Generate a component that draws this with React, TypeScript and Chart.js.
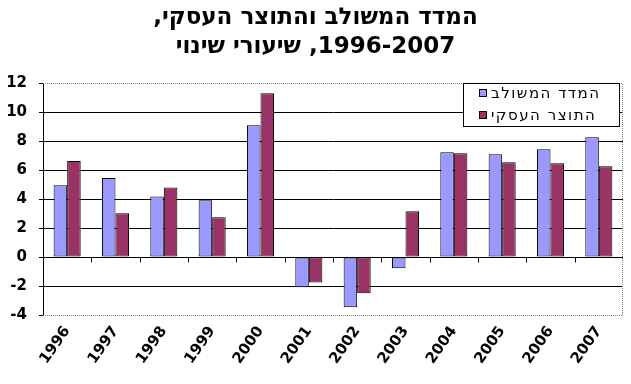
import React, { useEffect, useRef } from "react";
import { Chart, registerables } from "chart.js";
Chart.register(...registerables);

const years = ["1996", "1997", "1998", "1999", "2000", "2001", "2002", "2003", "2004", "2005", "2006", "2007"];
const compositeIndex = [4.95, 5.45, 4.18, 3.91, 9.08, -2.09, -3.47, -0.78, 7.22, 7.08, 7.43, 8.26];
const businessProduct = [6.62, 3.01, 4.8, 2.74, 11.29, -1.75, -2.5, 3.15, 7.15, 6.53, 6.46, 6.26];
const seriesLabels = ["המדד המשולב", "התוצר העסקי"];
const seriesColors = ["#9999FF", "#993366"];
// Title lines as visual runs, left to right (each Hebrew run is a pure RTL run)
const titleLine1Runs = [",", "המדד המשולב והתוצר העסקי"];
const titleLine2Runs = ["שיעורי שינוי", " ,", "1996-2007"];
const yMin = -4;
const yMax = 12;
const yStep = 2;

const FONT = "'DejaVu Sans', sans-serif";

function drawRuns(ctx: CanvasRenderingContext2D, runs: string[], cx: number, cy: number) {
  const widths = runs.map((r) => ctx.measureText(r).width);
  const total = widths.reduce((a, b) => a + b, 0);
  let x = cx - total / 2;
  runs.forEach((r, i) => {
    ctx.fillText(r, x, cy);
    x += widths[i];
  });
}

const framePlugin = {
  id: "frameAndLegend",
  afterDraw(chart: any) {
    const ctx = chart.ctx;
    const area = chart.chartArea;
    const x = chart.scales.x;
    const y = chart.scales.y;
    ctx.save();
    ctx.direction = "ltr";
    // title
    ctx.textAlign = "left";
    ctx.textBaseline = "middle";
    ctx.fillStyle = "#000";
    ctx.font = "bold 23px " + FONT;
    drawRuns(ctx, titleLine1Runs, chart.width / 2, 18);
    drawRuns(ctx, titleLine2Runs, chart.width / 2, 47);
    // dotted frame: top, right, bottom
    ctx.strokeStyle = "#808080";
    ctx.lineWidth = 1;
    ctx.setLineDash([1, 1]);
    ctx.beginPath();
    const t = Math.round(area.top) + 0.5;
    const b = Math.round(area.bottom) + 0.5;
    const r = Math.round(area.right) - 0.5;
    const l = Math.round(area.left);
    ctx.moveTo(l, t);
    ctx.lineTo(r, t);
    ctx.lineTo(r, b);
    ctx.lineTo(l, b);
    ctx.stroke();
    ctx.setLineDash([]);
    // tick marks on zero line at category boundaries
    const zero = Math.round(y.getPixelForValue(0)) + 0.5;
    ctx.strokeStyle = "#000";
    ctx.beginPath();
    for (let i = 1; i < years.length; i++) {
      const px = Math.round((x.getPixelForValue(i - 1) + x.getPixelForValue(i)) / 2) + 0.5;
      ctx.moveTo(px, zero);
      ctx.lineTo(px, zero + 5);
    }
    ctx.stroke();
    // legend box
    const ds = chart.data.datasets;
    const lw = 156;
    const lh = 43;
    const lx = Math.round(area.right) - 4 - lw;
    const ly = Math.round(area.top);
    ctx.fillStyle = "#fff";
    ctx.fillRect(lx, ly, lw, lh);
    ctx.strokeStyle = "#000";
    ctx.strokeRect(lx + 0.5, ly + 0.5, lw, lh);
    ctx.font = "15px " + FONT;
    (ctx as any).letterSpacing = "1.5px";
    ctx.textBaseline = "middle";
    ctx.textAlign = "left";
    ds.forEach((d: any, i: number) => {
      const cy = ly + 11 + i * 22;
      ctx.fillStyle = d.backgroundColor;
      ctx.fillRect(lx + 16.5, cy - 4.5, 7, 7);
      ctx.strokeStyle = "#000";
      ctx.strokeRect(lx + 16.5, cy - 4.5, 7, 7);
      ctx.fillStyle = "#000";
      ctx.fillText(d.label, lx + 28, cy);
    });
    (ctx as any).letterSpacing = "0px";
    ctx.restore();
  },
};

export default function App() {
  const ref = useRef<HTMLCanvasElement>(null);
  useEffect(() => {
    if (!ref.current) return;
    Chart.defaults.font.family = FONT;
    Chart.defaults.color = "#000";
    const chart = new Chart(ref.current, {
      type: "bar",
      data: {
        labels: years,
        datasets: [
          {
            label: seriesLabels[0],
            data: compositeIndex,
            backgroundColor: seriesColors[0],
            borderColor: "#000",
            borderWidth: 1,
            borderSkipped: false,
          },
          {
            label: seriesLabels[1],
            data: businessProduct,
            backgroundColor: seriesColors[1],
            borderColor: "#000",
            borderWidth: 1,
            borderSkipped: false,
          },
        ],
      },
      options: {
        animation: false,
        responsive: true,
        maintainAspectRatio: false,
        layout: { padding: { left: 0, right: 8, top: 83, bottom: 0 } },
        datasets: { bar: { categoryPercentage: 0.56, barPercentage: 1 } },
        plugins: {
          legend: { display: false },
          tooltip: { enabled: false },
          title: { display: false },
        },
        scales: {
          x: {
            grid: { display: false },
            border: { display: false },
            ticks: {
              minRotation: 55,
              maxRotation: 55,
              font: { size: 15, family: FONT, weight: "bold" },
              color: "#000",
              padding: 0,
            },
            afterFit: (s: any) => {
              s.height = 69;
            },
          },
          y: {
            min: yMin,
            max: yMax,
            ticks: {
              stepSize: yStep,
              font: { size: 15, family: FONT, weight: "bold" },
              color: "#000",
              padding: 12,
            },
            grid: {
              color: (c: any) => (c.tick && (c.tick.value === yMax || c.tick.value === yMin) ? "rgba(0,0,0,0)" : "#000"),
              tickColor: "#000",
              tickLength: 4,
            },
            border: { display: true, color: "#000", width: 1 },
            afterFit: (s: any) => {
              s.width = 43;
            },
          },
        },
      },
      plugins: [framePlugin],
    });
    return () => chart.destroy();
  }, []);
  return (
    <div style={{ position: "absolute", left: 0, top: 0, width: 631, height: 384, background: "#fff" }}>
      <canvas ref={ref} />
    </div>
  );
}
